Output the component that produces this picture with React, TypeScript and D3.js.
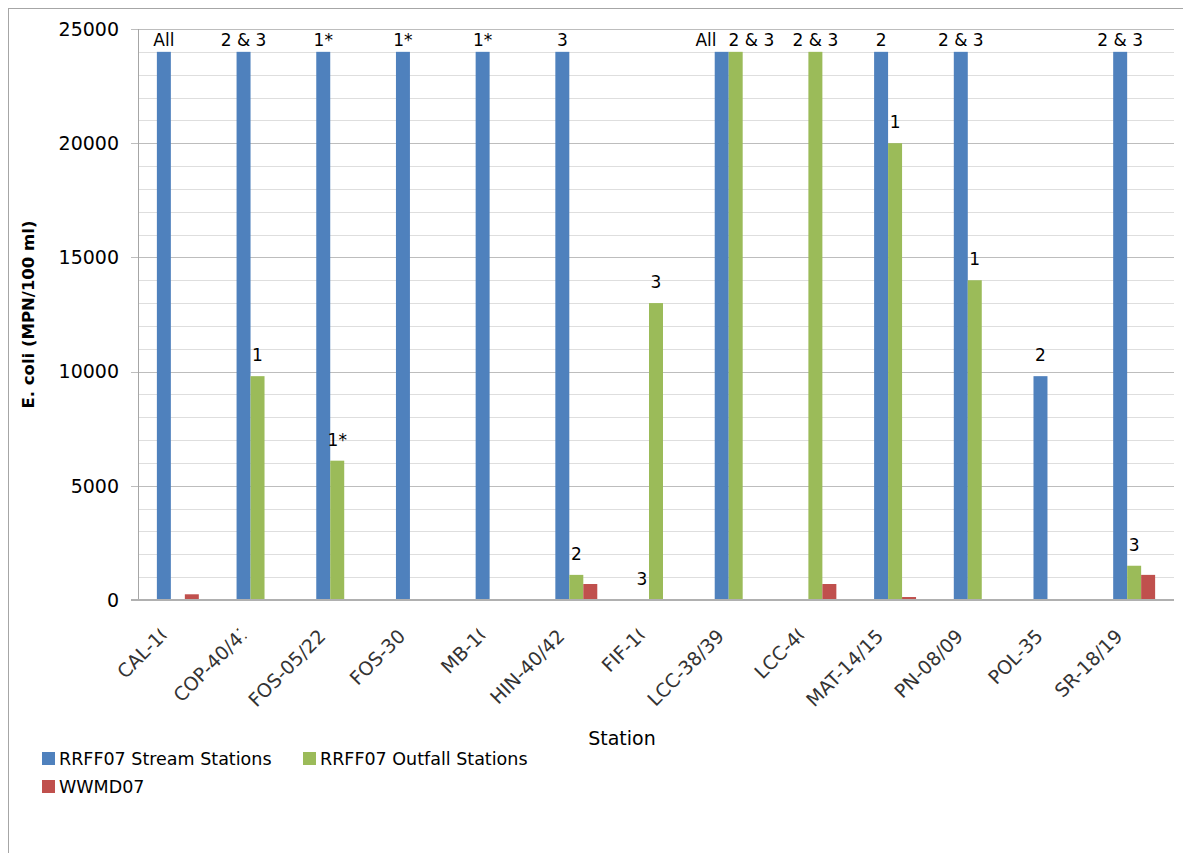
import * as d3 from 'd3';

const stations = ['CAL-10', 'COP-40/41', 'FOS-05/22', 'FOS-30', 'MB-10', 'HIN-40/42', 'FIF-10', 'LCC-38/39', 'LCC-40', 'MAT-14/15', 'PN-08/09', 'POL-35', 'SR-18/19'];
// labels that the original chart cuts off at their last character
const clippedStations = ['CAL-10', 'COP-40/41', 'MB-10', 'FIF-10', 'LCC-40'];

const seriesNames = ['RRFF07 Stream Stations', 'RRFF07 Outfall Stations', 'WWMD07'];
const seriesColors = ['#4F81BD', '#9BBB59', '#C0504D'];

const streamValues = [24000, 24000, 24000, 24000, 24000, 24000, 0, 24000, 0, 24000, 24000, 9800, 24000];
const outfallValues = [0, 9800, 6100, 0, 0, 1100, 13000, 24000, 24000, 20000, 14000, 0, 1500];
const wwmdValues = [250, 0, 0, 0, 0, 700, 0, 0, 700, 130, 40, 0, 1100];

const streamLabels = ['All', '2 & 3', '1*', '1*', '1*', '3', '3', 'All', '', '2', '2 & 3', '2', '2 & 3'];
const outfallLabels = ['', '1', '1*', '', '', '2', '3', '2 & 3', '2 & 3', '1', '1', '', '3'];
const wwmdLabels = ['', '', '', '', '', '', '', '', '', '', '', '', ''];

const yMajorTicks = [0, 5000, 10000, 15000, 20000, 25000];
const yMinorTicks = d3.range(0, 25001, 1000);

const FONT = '"DejaVu Sans", Verdana, sans-serif';

let ctx: CanvasRenderingContext2D | null = null;
function textWidth(s: string, size: number) {
    if (!ctx) ctx = document.createElement('canvas').getContext('2d');
    ctx!.font = `${size}px "DejaVu Sans"`;
    return ctx!.measureText(s).width;
}

export default function App() {
    const width = 1183;
    const height = 853;
    const plot = { left: 138, right: 1174, top: 29, bottom: 600 };
    const labelSize = 17;

    const x = d3.scaleBand<string>().domain(stations).range([plot.left, plot.right]).paddingInner(0).paddingOuter(0);
    const xs = d3.scaleBand<string>().domain(seriesNames).range([0, x.bandwidth()]).paddingInner(0).paddingOuter(1.35);
    const y = d3.scaleLinear().domain([0, 25000]).range([plot.bottom, plot.top]);

    const series = [
        { name: seriesNames[0], color: seriesColors[0], values: streamValues, labels: streamLabels },
        { name: seriesNames[1], color: seriesColors[1], values: outfallValues, labels: outfallLabels },
        { name: seriesNames[2], color: seriesColors[2], values: wwmdValues, labels: wwmdLabels },
    ];

    // data labels, placed above the bars and kept inside the plot
    type Lbl = { key: string, text: string, cx: number, base: number, w: number, station: string };
    const labels: Lbl[] = [];
    series.forEach(s => {
        stations.forEach((st, i) => {
            const t = s.labels[i];
            if (!t) return;
            const cx = x(st)! + xs(s.name)! + xs.bandwidth() / 2;
            const base = Math.max(y(s.values[i]) - 15, plot.top + 17);
            labels.push({ key: s.name + st, text: t, cx, base, w: textWidth(t, labelSize), station: st });
        });
    });
    // push apart labels of one group that would overlap
    stations.forEach(st => {
        const g = labels.filter(l => l.station === st).sort((a, b) => a.cx - b.cx);
        for (let i = 1; i < g.length; i++) {
            const a = g[i - 1], b = g[i];
            if (Math.abs(a.base - b.base) > 5) continue;
            const need = (a.w + b.w) / 2 + 12 - (b.cx - a.cx);
            if (need > 0) {
                a.cx -= need / 2;
                b.cx += need / 2;
            }
        }
    });

    return (
        <svg width={width} height={height} style={{ position: 'absolute', left: 0, top: 0, background: '#fff' }}
            fontFamily={FONT}>
            <defs>
                <clipPath id="tickclip" clipPathUnits="userSpaceOnUse">
                    <rect x={-300} y={-40} width={300} height={100} />
                </clipPath>
            </defs>
            <rect x={8.5} y={8.5} width={1400} height={1000} fill="none" stroke="#a6a6a6" />

            {/* grid */}
            {yMinorTicks.filter(t => t % 5000 !== 0).map(t => (
                <line key={'mn' + t} x1={plot.left} x2={plot.right} y1={Math.round(y(t)) + 0.5} y2={Math.round(y(t)) + 0.5}
                    stroke="#dedede" />
            ))}
            {yMajorTicks.filter(t => t !== 0).map(t => (
                <line key={'mj' + t} x1={plot.left - 7} x2={plot.right} y1={Math.round(y(t)) + 0.5} y2={Math.round(y(t)) + 0.5}
                    stroke="#bdbdbd" />
            ))}

            {/* bars */}
            {series.map(s => (
                <g key={s.name} fill={s.color}>
                    {stations.map((st, i) => s.values[i] > 0 && (
                        <rect key={st} x={x(st)! + xs(s.name)!} y={y(s.values[i])} width={xs.bandwidth()}
                            height={plot.bottom - y(s.values[i])} />
                    ))}
                </g>
            ))}

            {/* y axis */}
            <line x1={plot.left + 0.5} x2={plot.left + 0.5} y1={plot.top} y2={plot.bottom} stroke="#a6a6a6" />
            <line x1={plot.left - 7} x2={plot.right} y1={plot.bottom} y2={plot.bottom} stroke="#b0b0b0" strokeWidth={2} />
            {yMajorTicks.map(t => (
                <text key={'yt' + t} x={119} y={y(t)} dy="0.36em" textAnchor="end" fontSize={19} fill="#000">{t}</text>
            ))}
            <text transform={`translate(34,${(plot.top + plot.bottom) / 2}) rotate(-90)`} textAnchor="middle"
                fontSize={16.5} fontWeight="bold">E. coli (MPN/100 ml)</text>

            {/* x axis */}
            {stations.map(st => (
                <g key={'xt' + st} transform={`translate(${x(st)! + x.bandwidth() / 2 - 20},628) rotate(-45)`}>
                    <text textAnchor="end" dy="0.71em" dx={clippedStations.includes(st) ? 8 : 0} fontSize={19}
                        fill="#333" clipPath={clippedStations.includes(st) ? 'url(#tickclip)' : undefined}>{st}</text>
                </g>
            ))}
            <text x={622} y={745} textAnchor="middle" fontSize={19}>Station</text>

            {/* data labels */}
            {labels.map(l => (
                <text key={l.key} x={l.cx} y={l.base} textAnchor="middle" fontSize={labelSize}>{l.text}</text>
            ))}

            {/* legend */}
            {series.map((s, i) => {
                const lx = i === 1 ? 303 : 42;
                const ly = i === 2 ? 780 : 752;
                return (
                    <g key={'lg' + s.name} transform={`translate(${lx},${ly})`}>
                        <rect width={13} height={13} fill={s.color} />
                        <text x={17} y={13} fontSize={17.5}>{s.name}</text>
                    </g>
                );
            })}
        </svg>
    );
}
